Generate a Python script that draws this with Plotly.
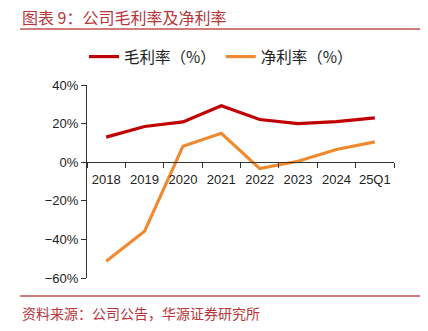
import plotly.graph_objects as go

categories = ["2018", "2019", "2020", "2021", "2022", "2023", "2024", "25Q1"]
gross_margin = [13.0, 18.5, 20.9, 29.2, 22.1, 20.0, 21.0, 23.0]
net_margin = [-51.3, -35.8, 8.3, 15.0, -3.3, 0.5, 6.6, 10.5]
y_ticks = [40, 20, 0, -20, -40, -60]
y_tick_labels = ["40%", "20%", "0%", "−20%", "−40%", "−60%"]

title_text = "图表 9：公司毛利率及净利率"
source_text = "资料来源：公司公告，华源证券研究所"
RED_T = "#B8353A"

W, H = 428, 331
ml, mr, mt, mb = 87, 34, 85, 53
y_min, y_max = -60, 40


def px_to_paper_x(px):
    return (px - ml) / (W - ml - mr)


def px_to_paper_y(py):
    return (H - mb - py) / (H - mt - mb)


fig = go.Figure()
fig.add_trace(go.Scatter(x=categories, y=gross_margin, mode="lines", name="毛利率（%）",
                         line=dict(color="#C00000", width=3.2)))
fig.add_trace(go.Scatter(x=categories, y=net_margin, mode="lines", name="净利率（%）",
                         line=dict(color="#F08A30", width=3.2)))

zero_pos = (0 - y_min) / (y_max - y_min)

fig.update_layout(
    width=W, height=H,
    margin=dict(l=ml, r=mr, t=mt, b=mb, autoexpand=False),
    plot_bgcolor="white", paper_bgcolor="white",
    font=dict(family="Liberation Sans, Arial, Noto Sans CJK SC", size=13, color="#222"),
    showlegend=True,
    legend=dict(orientation="h", x=px_to_paper_x(221), xanchor="center",
                y=px_to_paper_y(57), yanchor="middle",
                font=dict(size=15.5, family="Noto Sans CJK SC", color="#222"),
                bgcolor="rgba(0,0,0,0)"),
    xaxis=dict(
        type="category", anchor="free", position=zero_pos,
        range=[-0.5, len(categories) - 0.5],
        showline=True, linecolor="#333", linewidth=1.2,
        ticks="outside", tickson="boundaries", ticklen=5, tickcolor="#333",
        showgrid=False, zeroline=False, tickangle=0, ticklabelstandoff=5,
        tickfont=dict(size=13, color="#222"),
    ),
    yaxis=dict(
        range=[y_min, y_max], tickvals=y_ticks, ticktext=y_tick_labels,
        showline=True, linecolor="#333", linewidth=1.2,
        ticks="outside", ticklen=5, tickcolor="#333",
        showgrid=False, zeroline=False,
        tickfont=dict(size=13, color="#222"),
    ),
)

# Title, rule lines, source
fig.add_annotation(text=title_text, x=px_to_paper_x(20), y=px_to_paper_y(17),
                   xref="paper", yref="paper",
                   xanchor="left", yanchor="middle", showarrow=False,
                   font=dict(size=16, color=RED_T, family="Noto Sans CJK SC"))
fig.add_annotation(text=source_text, x=px_to_paper_x(20), y=px_to_paper_y(313),
                   xref="paper", yref="paper",
                   xanchor="left", yanchor="middle", showarrow=False,
                   font=dict(size=14, color=RED_T, family="Noto Sans CJK SC"))

for yy in (29, 296):
    fig.add_shape(type="line", xref="paper", yref="paper",
                  x0=px_to_paper_x(20), x1=px_to_paper_x(420),
                  y0=px_to_paper_y(yy), y1=px_to_paper_y(yy),
                  line=dict(color="#C0504D", width=1.6))

fig.write_html("out.html")
